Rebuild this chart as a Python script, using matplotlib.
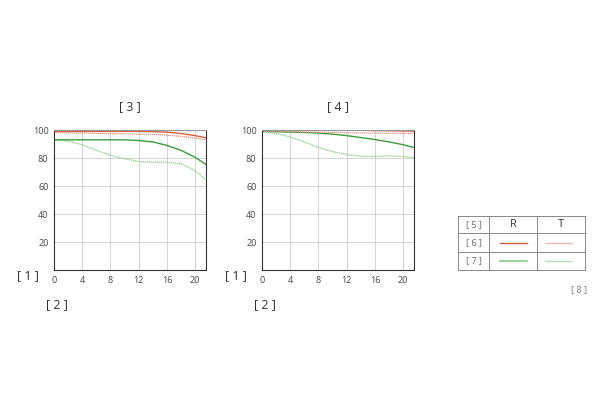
import matplotlib
matplotlib.use('Agg')
import matplotlib.pyplot as plt

plt.rcParams['font.family'] = ['Open Sans', 'DejaVu Sans']

# image height positions (mm) where curves are sampled
pos = [0, 2, 4, 6, 8, 10, 12, 14, 16, 18, 20, 21.5]

# chart [3]
w_r_sag = [99, 99, 99, 99, 99, 99, 99, 98.8, 98.5, 97.5, 96, 94.5]
w_t_mer = [98, 98, 97.8, 97.6, 97.4, 97.2, 97, 96.8, 96.3, 95.5, 94.3, 93]
w_g_sag = [93, 93, 93, 93, 93, 93, 92.5, 91.5, 89, 85.5, 80.5, 75.5]
w_g_mer = [93, 92, 89.5, 85.5, 82, 79.5, 77.5, 77, 77, 76, 71, 64.5]

# chart [4]
t_r_sag = [100, 100, 100, 100, 100, 100, 100, 99.8, 99.6, 99.5, 99.3, 99.2]
t_t_mer = [99, 99, 98.8, 98.6, 98.4, 98.2, 98, 97.9, 97.8, 97.7, 97.6, 97.5]
t_g_sag = [99, 98.8, 98.5, 98.2, 97.8, 97, 96, 94.6, 93.2, 91.5, 89.5, 87.5]
t_g_mer = [99, 97.5, 95, 91.5, 87.5, 84.5, 82.5, 81.3, 81, 81.5, 81, 80.3]

xticks = [0, 4, 8, 12, 16, 20]
yticks = [20, 40, 60, 80, 100]

red = '#d9603a'
green = '#3d9a3d'
red_light = '#e8907a'
green_light = '#8cc88c'

fig = plt.figure(figsize=(6, 4), dpi=100)


def mtf_panel(left, title, rs, rm, gs, gm):
    ax = fig.add_axes([left, 0.325, 0.254, 0.35])
    ax.plot(pos, gm, color=green_light, lw=0.9, ls=(0, (1, 0.6)))
    ax.plot(pos, gs, color=green, lw=1.0)
    ax.plot(pos, rm, color=red_light, lw=0.9, ls=(0, (1, 0.6)))
    ax.plot(pos, rs, color=red, lw=1.0)
    ax.set_xlim(0, 21.6)
    ax.set_ylim(0, 100)
    ax.set_xticks(xticks)
    ax.set_yticks(yticks)
    ax.grid(True, color='#cccccc', lw=0.6)
    ax.tick_params(length=0, labelsize=6.5, colors='#444444', pad=4)
    for s in ax.spines.values():
        s.set_color('#333333')
        s.set_linewidth(0.8)
    ax.spines['top'].set_color('#999999')
    ax.set_title(title, fontsize=9, color='#333333', pad=14)
    ax.text(-0.17, -0.04, '[ 1 ]', transform=ax.transAxes, fontsize=9,
            color='#333333', ha='center', va='center')
    ax.text(0.02, -0.25, '[ 2 ]', transform=ax.transAxes, fontsize=9,
            color='#333333', ha='center', va='center')
    return ax


mtf_panel(0.09, '[ 3 ]', w_r_sag, w_t_mer, w_g_sag, w_g_mer)
mtf_panel(0.4367, '[ 4 ]', t_r_sag, t_t_mer, t_g_sag, t_g_mer)

# legend table
tb = fig.add_axes([458 / 600, 1 - 270 / 400, 127 / 600, 54 / 400])
tb.set_xlim(0, 127)
tb.set_ylim(54, 0)
tb.axis('off')
cols = [0, 31, 79, 127]
rows = [0, 17, 36, 54]
for c in cols:
    tb.plot([c, c], [0, 54], color='#888888', lw=0.7, clip_on=False)
for r in rows:
    tb.plot([0, 127], [r, r], color='#888888', lw=0.7, clip_on=False)
tb.text(15.5, 8.5, '[ 5 ]', fontsize=6.5, color='#666666', ha='center', va='center')
tb.text(15.5, 26.5, '[ 6 ]', fontsize=6.5, color='#666666', ha='center', va='center')
tb.text(15.5, 45, '[ 7 ]', fontsize=6.5, color='#666666', ha='center', va='center')
tb.text(55, 8.5, 'R', fontsize=8, color='#333333', ha='center', va='center')
tb.text(103, 8.5, 'T', fontsize=8, color='#333333', ha='center', va='center')
tb.plot([42, 69], [26.5, 26.5], color=red, lw=1.0)
tb.plot([87, 115], [26.5, 26.5], color=red_light, lw=0.9, ls=(0, (1, 0.6)))
tb.plot([42, 69], [45, 45], color=green_light, lw=1.2)
tb.plot([87, 115], [45, 45], color=green_light, lw=0.9, ls=(0, (1, 0.6)))

fig.text(579 / 600, 1 - 290 / 400, '[ 8 ]', fontsize=6.5, color='#777777',
         ha='center', va='center')

fig.savefig('out.png', dpi=100)
